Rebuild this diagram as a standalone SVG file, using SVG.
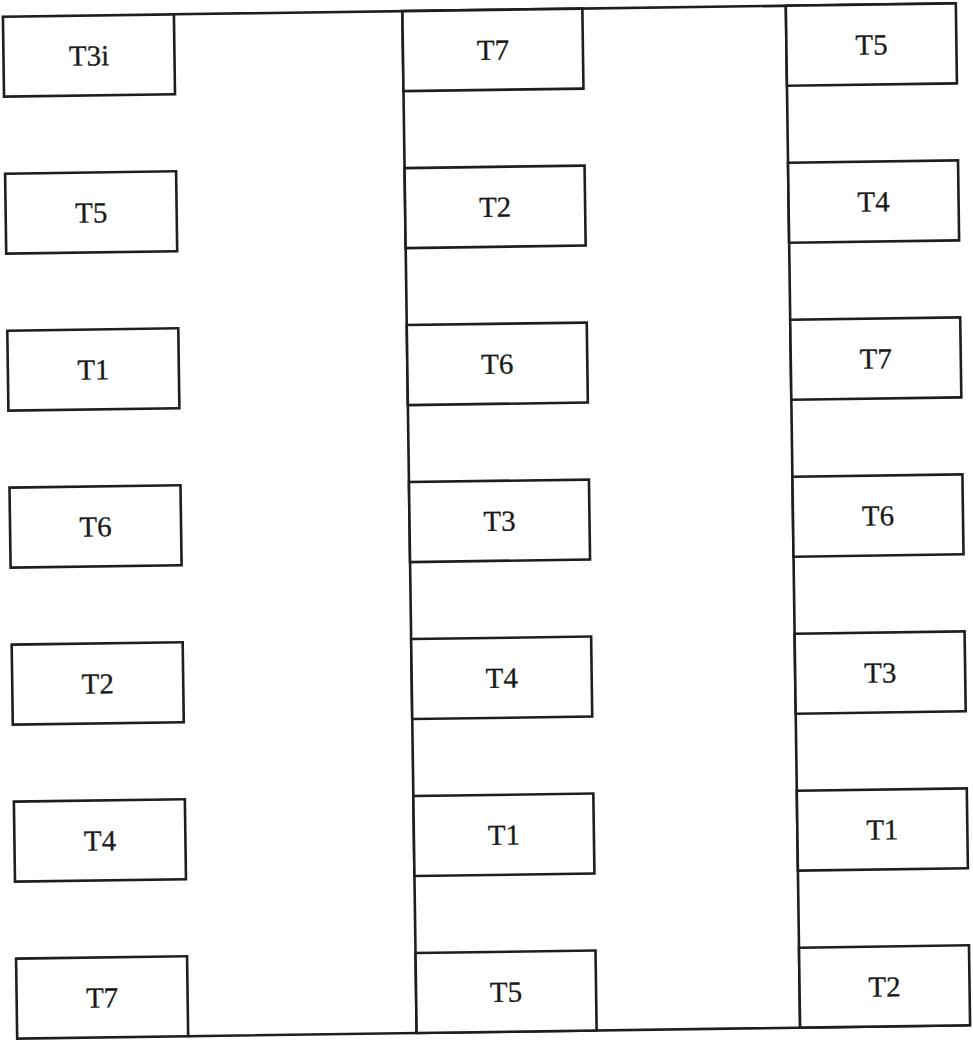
<svg xmlns="http://www.w3.org/2000/svg" width="973" height="1042" viewBox="0 0 973 1042">
<style>
.b{fill:#fff;stroke:#1e1e1e;stroke-width:2.6}
.c{fill:none;stroke:#1e1e1e;stroke-width:2.6}
text{font-family:"Liberation Serif","Times New Roman",serif;font-size:29px;fill:#1a1a1a;text-anchor:middle;stroke:#1a1a1a;stroke-width:0.3}
</style>
<rect width="973" height="1042" fill="#fff"/>
<g transform="rotate(-0.8 486 521)">
<g id="connectors">
<path class="c" d="M181 10H963M181 1032H963M409.5 10V1032M793 10V1032"/>
</g>
<g id="L1"><rect class="b" x="10" y="10" width="171" height="80"/><text x="95.5" y="60">T3i</text></g>
<g id="L2"><rect class="b" x="10" y="167" width="171" height="80"/><text x="95.5" y="217">T5</text></g>
<g id="L3"><rect class="b" x="10" y="324" width="171" height="80"/><text x="95.5" y="374">T1</text></g>
<g id="L4"><rect class="b" x="10" y="481" width="171" height="80"/><text x="95.5" y="531">T6</text></g>
<g id="L5"><rect class="b" x="10" y="638" width="171" height="80"/><text x="95.5" y="688">T2</text></g>
<g id="L6"><rect class="b" x="10" y="795" width="171" height="80"/><text x="95.5" y="845">T4</text></g>
<g id="L7"><rect class="b" x="10" y="952" width="171" height="80"/><text x="95.5" y="1002">T7</text></g>
<g id="M1"><rect class="b" x="409.5" y="10" width="180" height="80"/><text x="499.5" y="60">T7</text></g>
<g id="M2"><rect class="b" x="409.5" y="167" width="180" height="80"/><text x="499.5" y="217">T2</text></g>
<g id="M3"><rect class="b" x="409.5" y="324" width="180" height="80"/><text x="499.5" y="374">T6</text></g>
<g id="M4"><rect class="b" x="409.5" y="481" width="180" height="80"/><text x="499.5" y="531">T3</text></g>
<g id="M5"><rect class="b" x="409.5" y="638" width="180" height="80"/><text x="499.5" y="688">T4</text></g>
<g id="M6"><rect class="b" x="409.5" y="795" width="180" height="80"/><text x="499.5" y="845">T1</text></g>
<g id="M7"><rect class="b" x="409.5" y="952" width="180" height="80"/><text x="499.5" y="1002">T5</text></g>
<g id="R1"><rect class="b" x="793" y="10" width="170" height="80"/><text x="878" y="60">T5</text></g>
<g id="R2"><rect class="b" x="793" y="167" width="170" height="80"/><text x="878" y="217">T4</text></g>
<g id="R3"><rect class="b" x="793" y="324" width="170" height="80"/><text x="878" y="374">T7</text></g>
<g id="R4"><rect class="b" x="793" y="481" width="170" height="80"/><text x="878" y="531">T6</text></g>
<g id="R5"><rect class="b" x="793" y="638" width="170" height="80"/><text x="878" y="688">T3</text></g>
<g id="R6"><rect class="b" x="793" y="795" width="170" height="80"/><text x="878" y="845">T1</text></g>
<g id="R7"><rect class="b" x="793" y="952" width="170" height="80"/><text x="878" y="1002">T2</text></g>
</g>
</svg>
